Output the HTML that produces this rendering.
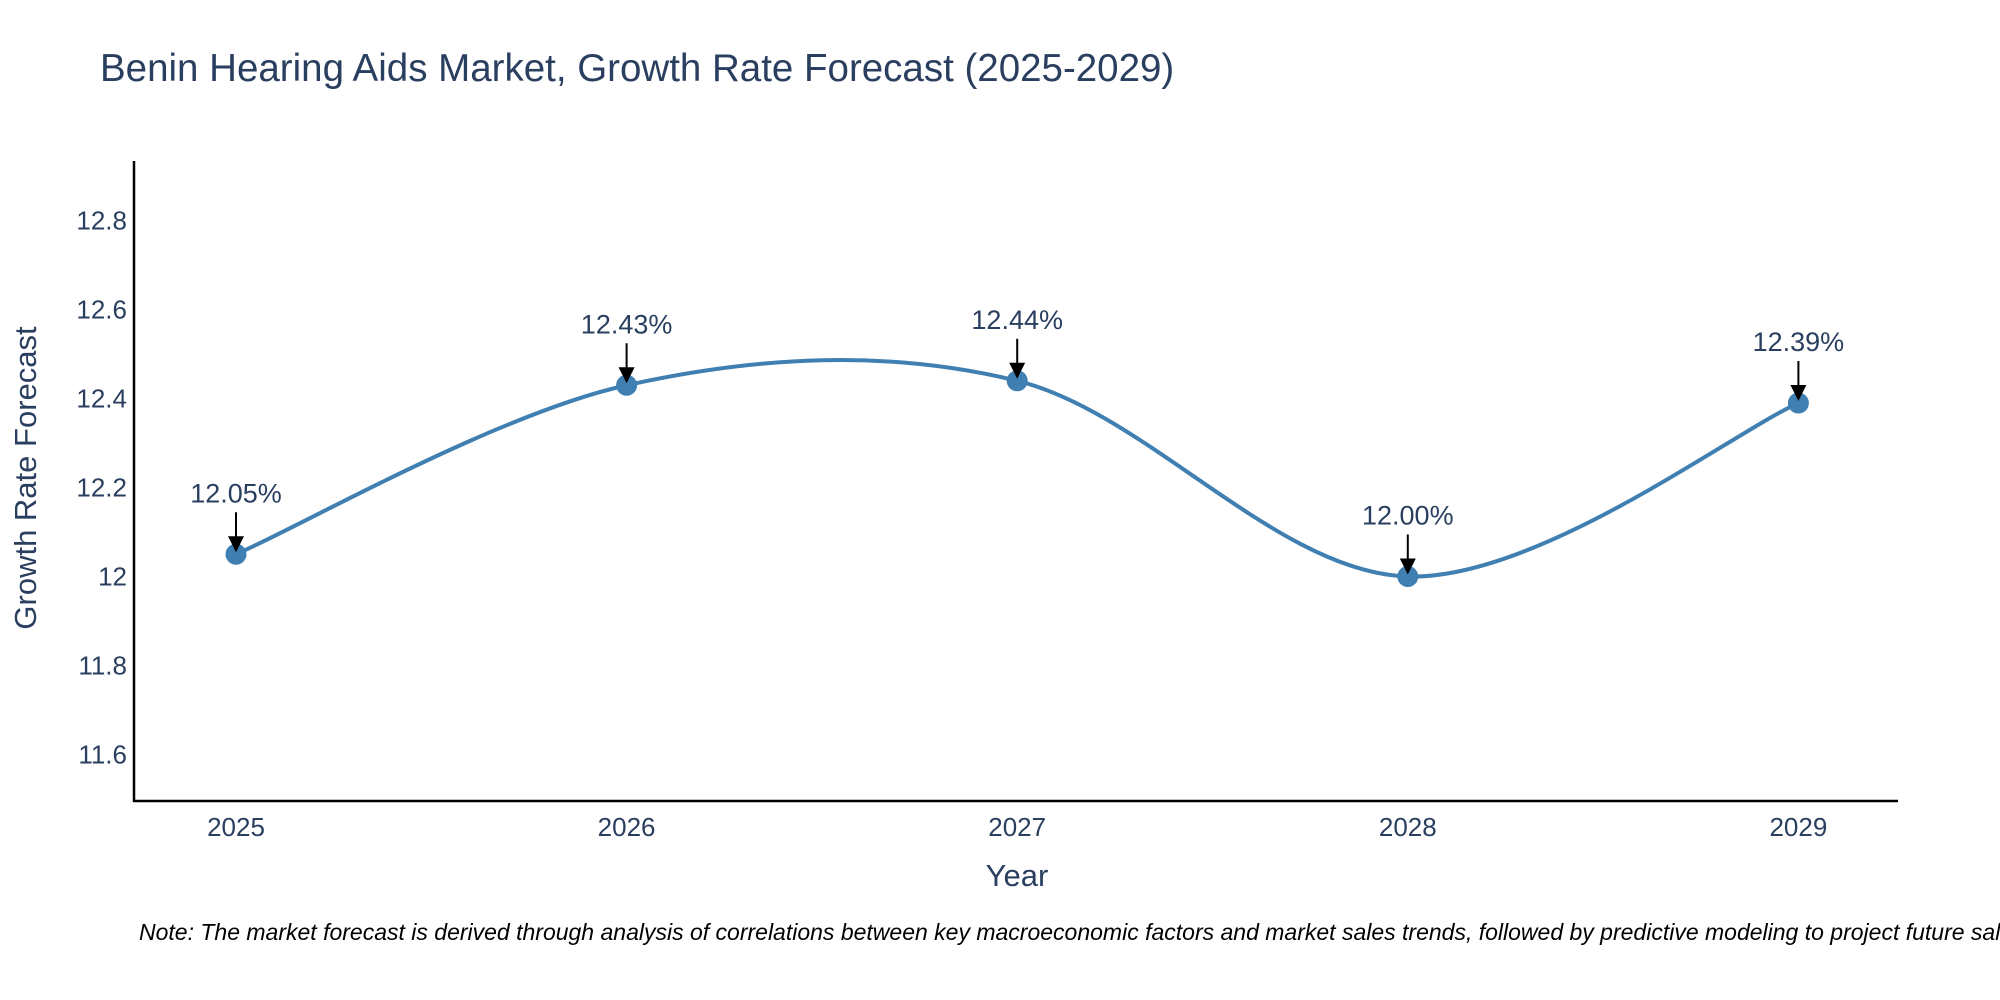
<!DOCTYPE html>
<html><head><meta charset="utf-8"><style>
html,body{margin:0;padding:0;background:#fff;overflow:hidden;}
svg{display:block;font-family:"Liberation Sans",sans-serif;}
</style></head><body>
<svg id="chart" width="2000" height="1000" viewBox="0 0 2000 1000">
<text x="100" y="81" font-size="38.5" fill="#2a3f5f">Benin Hearing Aids Market, Growth Rate Forecast (2025-2029)</text>
<g id="yticks"></g>
<g id="xticks"></g>
<path id="line" fill="none" stroke="#3f7fb1" stroke-width="4"/>
<g id="marks"></g>
<g id="annots"></g>
<line x1="134" y1="161" x2="134" y2="802" stroke="#000" stroke-width="2.5"/>
<line x1="133" y1="801" x2="1898" y2="801" stroke="#000" stroke-width="2.5"/>
<text x="1017" y="886" font-size="31" fill="#2a3f5f" text-anchor="middle">Year</text>
<text transform="translate(36,478) rotate(-90)" font-size="31" fill="#2a3f5f" text-anchor="middle">Growth Rate Forecast</text>
<text x="139" y="940" font-size="23" font-style="italic" fill="#000">Note: The market forecast is derived through analysis of correlations between key macroeconomic factors and market sales trends, followed by predictive modeling to project future sales.</text>
</svg>
<script>
const years = [2025, 2026, 2027, 2028, 2029];
const rates = [12.05, 12.43, 12.44, 12.00, 12.39];
const yTickVals = [11.6, 11.8, 12, 12.2, 12.4, 12.6, 12.8];
const yTickLabels = ["11.6", "11.8", "12", "12.2", "12.4", "12.6", "12.8"];
const NS = "http://www.w3.org/2000/svg";
function xs(v){ return 236 + (v - 2025) * 390.6; }
function ys(v){ return 576.5 - (v - 12) * 444.75; }
function mk(tag, attrs, parent){ const e = document.createElementNS(NS, tag); for (const k in attrs) e.setAttribute(k, attrs[k]); parent.appendChild(e); return e; }
const yt = document.getElementById('yticks');
yTickVals.forEach((v, i) => {
  const t = mk('text', {x: 127, y: ys(v) + 9, 'font-size': 26, fill: '#2a3f5f', 'text-anchor': 'end'}, yt);
  
  
  t.textContent = yTickLabels[i];
});
const xt = document.getElementById('xticks');
years.forEach(y => {
  const t = mk('text', {x: xs(y), y: 836, 'font-size': 26, fill: '#2a3f5f', 'text-anchor': 'middle'}, xt);
  
  
  t.textContent = String(y);
});
const pts = years.map((y, i) => [xs(y), ys(rates[i])]);
let d = 'M' + pts[0][0] + ',' + pts[0][1];
for (let i = 0; i < pts.length - 1; i++) {
  const p0 = pts[Math.max(0, i - 1)], p1 = pts[i], p2 = pts[i + 1], p3 = pts[Math.min(pts.length - 1, i + 2)];
  const c1 = [p1[0] + (p2[0] - p0[0]) / 6, p1[1] + (p2[1] - p0[1]) / 6];
  const c2 = [p2[0] - (p3[0] - p1[0]) / 6, p2[1] - (p3[1] - p1[1]) / 6];
  d += ' C' + c1[0] + ',' + c1[1] + ' ' + c2[0] + ',' + c2[1] + ' ' + p2[0] + ',' + p2[1];
}
document.getElementById('line').setAttribute('d', d);
const mg = document.getElementById('marks');
const ag = document.getElementById('annots');
pts.forEach((p, i) => {
  const c = mk('circle', {cx: p[0], cy: p[1], r: 10.5, fill: '#3f7fb1'}, mg);
  
  
  const l = mk('line', {x1: p[0], y1: p[1] - 42, x2: p[0], y2: p[1] - 16, stroke: '#000', 'stroke-width': 2}, ag);
  
  
  const h = mk('polygon', {points: (p[0]-8)+','+(p[1]-18)+' '+(p[0]+8)+','+(p[1]-18)+' '+p[0]+','+(p[1]-2), fill: '#000'}, ag);
  
  
  const t = mk('text', {x: p[0], y: p[1] - 52, 'font-size': 27, fill: '#2a3f5f', 'text-anchor': 'middle'}, ag);
  
  
  t.textContent = rates[i].toFixed(2) + '%';
});
</script>
</body></html>
